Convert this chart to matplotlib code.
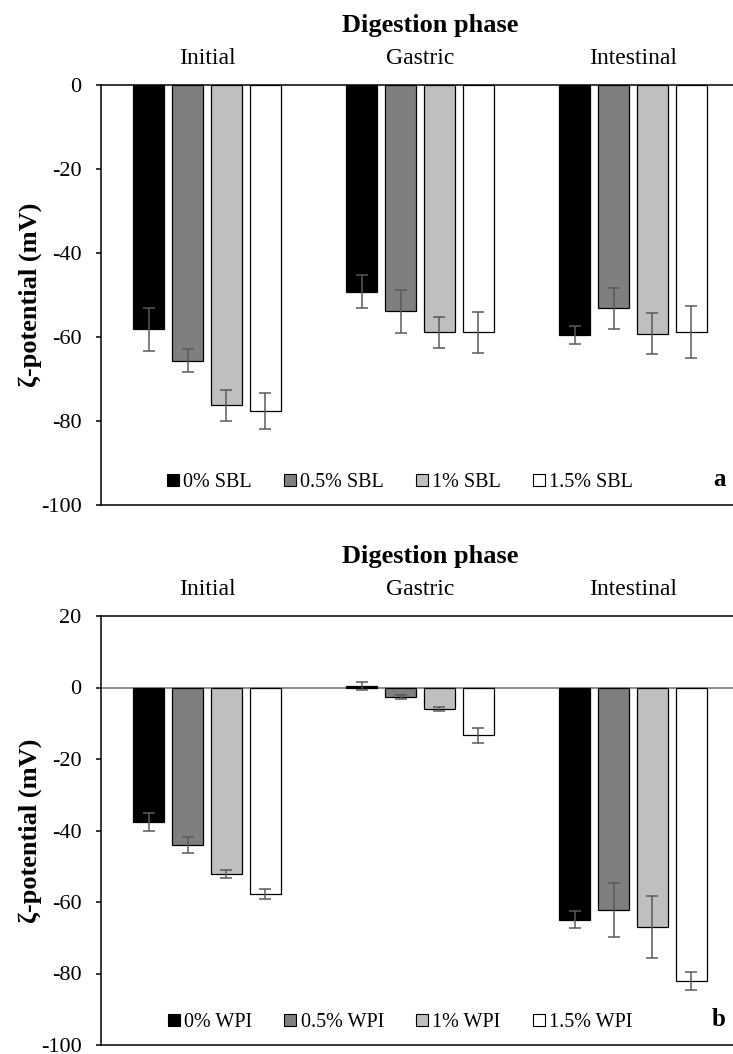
import numpy as np
import matplotlib
matplotlib.use('Agg')
import matplotlib.pyplot as plt
from matplotlib.lines import Line2D

plt.rcParams['font.family'] = ['Liberation Serif', 'DejaVu Serif']
plt.rcParams['axes.unicode_minus'] = False  # plain hyphen like the Excel original

# digestion phases (x categories)
phases = ['Initial', 'Gastric', 'Intestinal']
colors = ['#000000', '#7f7f7f', '#bfbfbf', '#ffffff']

# panel a: soybean lecithin
sbl_labels = ['0% SBL', '0.5% SBL', '1% SBL', '1.5% SBL']
sbl_mean = [[-58.2, -49.2, -59.6],
            [-65.6, -53.9, -53.2],
            [-76.3, -58.9, -59.2],
            [-77.7, -58.9, -58.9]]
sbl_err = [[5.2, 4.0, 2.1],
           [2.7, 5.1, 4.8],
           [3.6, 3.7, 4.8],
           [4.3, 4.9, 6.2]]

# panel b: whey protein isolate
wpi_labels = ['0% WPI', '0.5% WPI', '1% WPI', '1.5% WPI']
wpi_mean = [[-37.5, 0.5, -65.0],
            [-44.0, -2.7, -62.3],
            [-52.2, -6.0, -67.1],
            [-57.8, -13.4, -82.1]]
wpi_err = [[2.5, 1.1, 2.4],
           [2.2, 0.6, 7.6],
           [1.1, 0.65, 8.7],
           [1.5, 2.0, 2.5]]

W, H = 733, 1054
fig = plt.figure(figsize=(W / 100, H / 100), dpi=100)

def box(l, t, r, b):  # pixel box -> figure coords
    return [l / W, 1 - b / H, (r - l) / W, (b - t) / H]

def fx(px): return px / W
def fy(py): return 1 - py / H

def panel(ax, means, errs, labels, ylim, letter, top_px, bottom_px):
    x = np.arange(len(phases))
    for i in range(len(means)):
        off = (i - 1.5) * 0.183
        ax.bar(x + off, means[i], width=0.144, color=colors[i], edgecolor='black', linewidth=0.9, zorder=2)
        ax.errorbar(x + off, means[i], yerr=errs[i], fmt='none', ecolor='#5a5a5a',
                    elinewidth=1.1, capsize=4, capthick=1.1, zorder=3)
    ax.set_xlim(-0.5, 2.5)
    ax.set_ylim(*ylim)
    ax.set_yticks(np.arange(ylim[0], ylim[1] + 1, 20))
    ax.set_xticks([])
    ax.spines['right'].set_visible(False)
    for s in ['left', 'top', 'bottom']:
        ax.spines[s].set_linewidth(1.1)
    ax.tick_params(axis='y', direction='out', length=3.6, width=1.1, pad=10, labelsize=16)
    if ylim[1] > 0:
        ax.axhline(0, color='#6e6e6e', linewidth=1.1, zorder=1)

    # category labels and title above the plot
    for i, p in enumerate(phases):
        px = 100.5 + 213 * (i + 0.5)
        fig.text(fx(px), fy(top_px - 21), p, ha='center', va='baseline', fontsize=17)
    fig.text(fx(430), fy(top_px - 53), 'Digestion phase', ha='center', va='baseline',
             fontsize=19, fontweight='bold')
    fig.text(fx(30), fy((top_px + bottom_px) / 2), 'ζ-potential (mV)', rotation=90,
             ha='center', va='center', fontsize=19, fontweight='bold')

    handles = [Line2D([], [], marker='s', linestyle='none', markersize=8.5,
                      markerfacecolor=c, markeredgecolor='black', markeredgewidth=0.8)
               for c in colors]
    fig.legend(handles, labels, ncol=4, loc='center', frameon=False, fontsize=14.5,
               bbox_to_anchor=(fx(400), fy(bottom_px - 23)), handlelength=0.6,
               handletextpad=0.2, columnspacing=1.6, borderpad=0)
    fig.text(fx(719), fy(bottom_px - 19), letter, ha='center', va='baseline',
             fontsize=18, fontweight='bold')

ax_a = fig.add_axes(box(100.5, 85, 739.5, 505))
panel(ax_a, sbl_mean, sbl_err, sbl_labels, (-100, 0), 'a', 85, 505)

ax_b = fig.add_axes(box(100.5, 616, 739.5, 1045))
panel(ax_b, wpi_mean, wpi_err, wpi_labels, (-100, 20), 'b', 616, 1045)

plt.savefig('out.png', dpi=100)
plt.close()
